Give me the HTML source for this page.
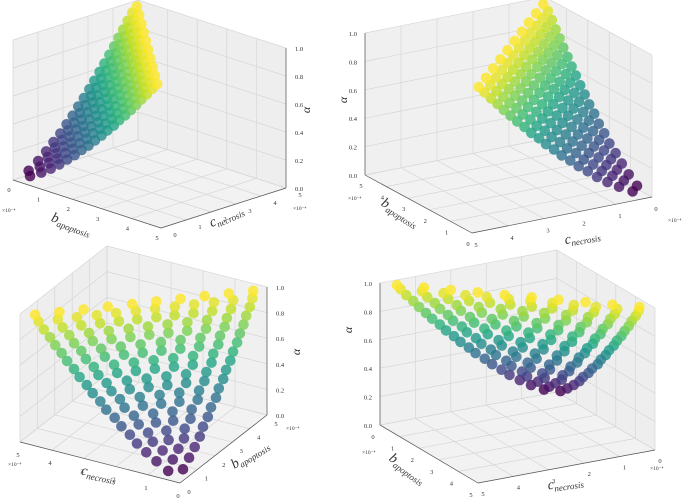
<!DOCTYPE html>
<html><head><meta charset="utf-8">
<style>
html,body{margin:0;padding:0;background:#fff;}
svg{display:block;}
text{font-family:"Liberation Serif","DejaVu Serif",serif;fill:#333;}
</style></head>
<body>
<svg id="fig" width="685" height="499" viewBox="0 0 685 499" xmlns="http://www.w3.org/2000/svg"></svg>
<script>
// ---- data: (b_apoptosis x1e-4, c_necrosis x1e-4, alpha) ----
const alphaVals = [.05,.05, .1,.1,.1, .15,.15,.15,.15, .2,.2,.2,.2,.2, .25,.25,.25,.25,.25,
 .3,.3,.3,.3,.3,.3, .35,.35,.35,.35,.35,.35, .4,.4,.4,.4,.4,.4,.4, .45,.45,.45,.45,.45,.45,.45,
 .5,.5,.5,.5,.5,.5,.5,.5, .55,.55,.55,.55,.55,.55,.55,.55, .6,.6,.6,.6,.6,.6,.6,.6,.6,
 .65,.65,.65,.65,.65,.65,.65,.65,.65, .7,.7,.7,.7,.7,.7,.7,.7,.7,.7, .75,.75,.75,.75,.75,.75,.75,.75,.75,.75,
 .8,.8,.8,.8,.8,.8,.8,.8,.8,.8,.8, .85,.85,.85,.85,.85,.85,.85,.85,.85,.85,.85,
 .9,.9,.9,.9,.9,.9,.9,.9,.9,.9,.9,.9, .95,.95,.95,.95,.95,.95,.95,.95,.95,.95,.95,.95,
 .99,.99,.99,.99,.99,.99,.99,.99,.99,.99];
const bVals = [.15,.45, .16,.49,.82, .16,.49,.81,1.14, .16,.48,.8,1.11,1.43, .19,.56,.93,1.3,1.67,
 .18,.53,.88,1.23,1.58,1.93, .2,.59,.98,1.37,1.76,2.15, .18,.55,.92,1.29,1.66,2.03,2.4, .2,.6,1,1.4,1.8,2.2,2.6,
 .19,.57,.94,1.32,1.7,2.08,2.45,2.83, .2,.6,1.01,1.41,1.81,2.21,2.62,3.02, .19,.57,.95,1.33,1.72,2.1,2.48,2.86,3.24,
 .2,.6,1.01,1.41,1.81,2.21,2.61,3.02,3.42, .19,.57,.96,1.34,1.72,2.1,2.48,2.87,3.25,3.63, .2,.6,1,1.4,1.8,2.21,2.61,3.01,3.41,3.81,
 .19,.57,.95,1.33,1.71,2.1,2.48,2.86,3.24,3.62,4, .2,.59,.99,1.39,1.79,2.19,2.58,2.98,3.38,3.78,4.17,
 .19,.57,.95,1.33,1.71,2.08,2.47,2.84,3.22,3.6,3.98,4.36, .2,.59,.98,1.38,1.77,2.17,2.56,2.96,3.35,3.75,4.14,4.53,
 .25,.74,1.23,1.72,2.21,2.7,3.19,3.68,4.17,4.66];
const cVals = [.45,.15, .82,.49,.16, 1.14,.81,.49,.16, 1.43,1.11,.79,.48,.16, 1.67,1.3,.93,.56,.19,
 1.93,1.58,1.23,.88,.53,.18, 2.15,1.76,1.37,.98,.59,.2, 2.4,2.03,1.66,1.29,.92,.55,.18, 2.6,2.2,1.8,1.4,1,.6,.2,
 2.83,2.45,2.08,1.7,1.32,.94,.57,.19, 3.02,2.62,2.21,1.81,1.41,1.01,.6,.2, 3.24,2.86,2.48,2.1,1.72,1.33,.95,.57,.19,
 3.42,3.02,2.61,2.21,1.81,1.41,1.01,.6,.2, 3.63,3.25,2.87,2.48,2.1,1.72,1.34,.96,.57,.19, 3.81,3.41,3.01,2.61,2.21,1.8,1.4,1,.6,.2,
 4,3.62,3.24,2.86,2.48,2.1,1.71,1.33,.95,.57,.19, 4.17,3.78,3.38,2.98,2.58,2.19,1.79,1.39,.99,.59,.2,
 4.36,3.98,3.6,3.22,2.84,2.47,2.08,1.71,1.33,.95,.57,.19, 4.53,4.14,3.75,3.35,2.96,2.56,2.17,1.77,1.38,.98,.59,.2,
 4.66,4.17,3.68,3.19,2.7,2.21,1.72,1.23,.74,.25];
const bTicks = [0,1,2,3,4,5];
const cTicks = [0,1,2,3,4,5];
const aTicks = [0,0.2,0.4,0.6,0.8,1.0];
const aTickLabels = ["0.0","0.2","0.4","0.6","0.8","1.0"];

// ---- panel view definitions (projection = axis functions) ----
const panels = [
 {name:'top-left', O:[13,180], B:[29.6,9.6], C:[25,-8], A:140, back:[0,5], aEdge:[5,5], aOff:[9,3], aAnchor:'start',
  bEdgeC:0, bOff:[-4,12], cEdgeB:5, cOff:[14,9],
  bTitle:[70,228,20], cTitle:[228,220,-24], aTitle:[310,110], mb:[2,212], mc:[293,210]},
 {name:'top-right', O:[652,197], B:[-21.4,-11.6], C:[-36,7.2], A:142, back:[5,0], aEdge:[5,5], aOff:[-8,3], aAnchor:'end',
  bEdgeC:5, bOff:[-4,13], cEdgeB:0, cOff:[4,14],
  bTitle:[398,216,32], cTitle:[583,241,-10], aTitle:[347,100], mb:[348,200], mc:[668,222]},
 {name:'bottom-left', O:[180,483], B:[17.4,-13.6], C:[-32,-8.2], A:128, back:[5,5], aEdge:[5,0], aOff:[9,3], aAnchor:'start',
  bEdgeC:0, bOff:[9,11], cEdgeB:0, cOff:[-2,15],
  bTitle:[252,458,-32], cTitle:[98,478,12], aTitle:[300,352], mb:[286,430], mc:[8,466]},
 {name:'bottom-right', O:[557,392], B:[19.6,11.6], C:[-35.4,6.6], A:142, back:[0,0], aEdge:[0,5], aOff:[-8,3], aAnchor:'end',
  bEdgeC:5, bOff:[-7,14], cEdgeB:5, cOff:[5,13],
  bTitle:[405,472,36], cTitle:[566,487,-8], aTitle:[352,330], mb:[362,454], mc:[650,470]}
];

const NS='http://www.w3.org/2000/svg';
const svg=document.getElementById('fig');
function mk(tag,attrs,parent){const e=document.createElementNS(NS,tag);for(const k in attrs)e.setAttribute(k,attrs[k]);parent.appendChild(e);return e;}
function proj(p,b,c,a){return [p.O[0]+b*p.B[0]+c*p.C[0], p.O[1]+b*p.B[1]+c*p.C[1]-a*p.A];}
const vir=[[68,1,84],[72,36,117],[65,68,135],[53,95,141],[42,120,142],[33,145,140],[34,168,132],[68,191,112],[122,209,81],[189,223,38],[253,231,37]];
function viridis(t){t=Math.max(0,Math.min(1,t))*10;const i=Math.min(9,Math.floor(t)),f=t-i;const a=vir[i],b=vir[i+1];
 return 'rgb('+[0,1,2].map(k=>Math.round(a[k]+(b[k]-a[k])*f)).join(',')+')';}
function pts(list){return list.map(q=>q[0].toFixed(1)+','+q[1].toFixed(1)).join(' ');}

panels.forEach(p=>{
 const g=mk('g',{},svg);
 
 
 const bk=p.back[0], ck=p.back[1];
 const floor=mk('polygon',{points:pts([proj(p,0,0,0),proj(p,5,0,0),proj(p,5,5,0),proj(p,0,5,0)]),fill:'#f2f2f2',stroke:'none'},g);
 
 
 const wb=mk('polygon',{points:pts([proj(p,bk,0,0),proj(p,bk,5,0),proj(p,bk,5,1),proj(p,bk,0,1)]),fill:'#f0f0f0',stroke:'none'},g);
 
 
 const wc=mk('polygon',{points:pts([proj(p,0,ck,0),proj(p,5,ck,0),proj(p,5,ck,1),proj(p,0,ck,1)]),fill:'#eeeeee',stroke:'none'},g);
 
 
 const grid=mk('g',{stroke:'#d6d6d6','stroke-width':0.7,fill:'none'},g);
 
 
 function line(a,b){mk('line',{x1:a[0],y1:a[1],x2:b[0],y2:b[1]},grid);}
 bTicks.forEach(v=>{line(proj(p,v,0,0),proj(p,v,5,0));line(proj(p,v,ck,0),proj(p,v,ck,1));});
 cTicks.forEach(v=>{line(proj(p,0,v,0),proj(p,5,v,0));line(proj(p,bk,v,0),proj(p,bk,v,1));});
 aTicks.forEach(v=>{line(proj(p,bk,0,v),proj(p,bk,5,v));line(proj(p,0,ck,v),proj(p,5,ck,v));});
 const ax=mk('g',{stroke:'#555','stroke-width':0.7},g);
 
 
 let s=proj(p,0,p.bEdgeC,0),e=proj(p,5,p.bEdgeC,0);mk('line',{x1:s[0],y1:s[1],x2:e[0],y2:e[1]},ax);
 s=proj(p,p.cEdgeB,0,0);e=proj(p,p.cEdgeB,5,0);mk('line',{x1:s[0],y1:s[1],x2:e[0],y2:e[1]},ax);
 s=proj(p,p.aEdge[0],p.aEdge[1],0);e=proj(p,p.aEdge[0],p.aEdge[1],1);mk('line',{x1:s[0],y1:s[1],x2:e[0],y2:e[1]},ax);
 const sc=mk('g',{},g);
 
 
 alphaVals.forEach((a,i)=>{
  const q=proj(p,bVals[i],cVals[i],a);
  const dot=mk('circle',{cx:q[0].toFixed(1),cy:q[1].toFixed(1),r:5.3,fill:viridis((a-0.05)/0.94),'fill-opacity':0.8},sc);
  
  
 });
 const tl=mk('g',{'font-size':6.5},g);
 
 
 bTicks.forEach(v=>{const q=proj(p,v,p.bEdgeC,0);const t=mk('text',{x:q[0]+p.bOff[0],y:q[1]+p.bOff[1],'text-anchor':'middle'},tl);t.textContent=v;
  });
 cTicks.forEach(v=>{const q=proj(p,p.cEdgeB,v,0);const t=mk('text',{x:q[0]+p.cOff[0],y:q[1]+p.cOff[1],'text-anchor':'middle'},tl);t.textContent=v;
  });
 aTicks.forEach((v,i)=>{const q=proj(p,p.aEdge[0],p.aEdge[1],v);const t=mk('text',{x:q[0]+p.aOff[0],y:q[1]+p.aOff[1],'text-anchor':p.aAnchor},tl);t.textContent=aTickLabels[i];
  });
 [p.mb,p.mc].forEach(m=>{const t=mk('text',{x:m[0],y:m[1],'font-size':5.5},g);t.textContent='×10⁻⁴';
  });
 const bt=mk('text',{x:p.bTitle[0],y:p.bTitle[1],'font-size':14,'font-style':'italic','text-anchor':'middle',transform:'rotate('+p.bTitle[2]+' '+p.bTitle[0]+' '+p.bTitle[1]+')'},g);
 bt.innerHTML='b<tspan font-size="9" dy="3">apoptosis</tspan>';
 
 
 const ct=mk('text',{x:p.cTitle[0],y:p.cTitle[1],'font-size':14,'font-style':'italic','text-anchor':'middle',transform:'rotate('+p.cTitle[2]+' '+p.cTitle[0]+' '+p.cTitle[1]+')'},g);
 ct.innerHTML='c<tspan font-size="9" dy="3">necrosis</tspan>';
 
 
 const at=mk('text',{x:p.aTitle[0],y:p.aTitle[1],'font-size':12,'font-style':'italic','text-anchor':'middle',transform:'rotate(-90 '+p.aTitle[0]+' '+p.aTitle[1]+')'},g);
 at.textContent='α';
 
 
});
</script>
</body></html>
